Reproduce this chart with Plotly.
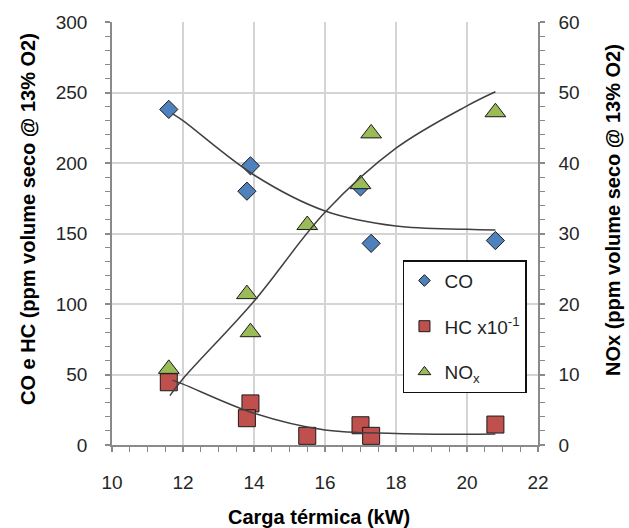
import plotly.graph_objects as go

# Measured points (x = carga térmica in kW)
co_x = [11.6, 13.9, 13.8, 17.0, 17.3, 20.8]
co_y = [238, 198, 180, 183, 143, 145]

hc_x = [11.6, 13.9, 13.8, 15.5, 17.0, 17.3, 20.8]
hc_y = [44.5, 29.5, 19, 6.5, 14, 6.5, 14.5]   # HC x10^-1

nox_x = [11.6, 13.8, 13.9, 15.5, 17.0, 17.3, 20.8]
nox_y = [10.8, 21.4, 16.0, 31.2, 37.0, 44.2, 47.2]

# Trend curves
co_trend_x = [11.7, 12.0, 14.0, 16.0, 18.0, 20.0, 20.8]
co_trend_y = [235, 230, 191.5, 166, 155.3, 153, 152.5]

hc_trend_x = [11.7, 12.0, 14.0, 16.0, 18.0, 20.0, 20.8]
hc_trend_y = [46.0, 43.2, 22.5, 10.6, 8.2, 7.6, 7.8]

nox_trend_x = [11.63, 12.0, 14.0, 16.0, 18.0, 20.0, 20.8]
nox_trend_y = [7.0, 9.4, 20.4, 33.0, 42.1, 48.1, 50.1]

x_ticks = [10, 12, 14, 16, 18, 20, 22]
y_ticks = [0, 50, 100, 150, 200, 250, 300]
y2_ticks = [0, 10, 20, 30, 40, 50, 60]

BLUE = "#4F81BD"
RED = "#C0504D"
GREEN = "#9BBB59"
EDGE = "#1a1a1a"
TREND = "#404040"
FONT = "Liberation Sans"

W, H = 629, 528
ML, MR, MT, MB = 112, 91, 22, 83
PW, PH = W - ML - MR, H - MT - MB

fig = go.Figure()

# markers
fig.add_trace(go.Scatter(x=co_x, y=co_y, mode="markers", showlegend=False,
                         marker=dict(symbol="diamond", size=14, color=BLUE,
                                     line=dict(color=EDGE, width=1))))
fig.add_trace(go.Scatter(x=nox_x, y=nox_y, mode="markers", yaxis="y2", showlegend=False,
                         marker=dict(symbol="triangle-up", size=18, color=GREEN,
                                     line=dict(color=EDGE, width=1))))
fig.add_trace(go.Scatter(x=hc_x, y=hc_y, mode="markers", showlegend=False,
                         marker=dict(symbol="square", size=17, color=RED,
                                     line=dict(color=EDGE, width=1))))

# trend curves
fig.add_trace(go.Scatter(x=co_trend_x, y=co_trend_y, mode="lines", showlegend=False,
                         line=dict(color=TREND, width=1.5, shape="spline", smoothing=1)))
fig.add_trace(go.Scatter(x=hc_trend_x, y=hc_trend_y, mode="lines", showlegend=False,
                         line=dict(color=TREND, width=1.5, shape="spline", smoothing=1)))
fig.add_trace(go.Scatter(x=nox_trend_x, y=nox_trend_y, mode="lines", yaxis="y2",
                         showlegend=False,
                         line=dict(color=TREND, width=1.5, shape="spline", smoothing=1)))

# legend entries with small symbols
fig.add_trace(go.Scatter(x=[None], y=[None], mode="markers", name="CO", legendgroup="a",
                         marker=dict(symbol="diamond", size=9, color=BLUE,
                                     line=dict(color=EDGE, width=1))))
fig.add_trace(go.Scatter(x=[None], y=[None], mode="markers", name="HC x10<sup>-1</sup>",
                         legendgroup="b",
                         marker=dict(symbol="square", size=11, color=RED,
                                     line=dict(color=EDGE, width=1))))
fig.add_trace(go.Scatter(x=[None], y=[None], mode="markers", name="NO<sub>x</sub>",
                         legendgroup="c",
                         marker=dict(symbol="triangle-up", size=11, color=GREEN,
                                     line=dict(color=EDGE, width=1))))

GRID = "#d4d4d4"
AXIS = "#8a8a8a"
TICKFONT = dict(family=FONT, size=19, color="#262626")
TITLEFONT = dict(family=FONT, size=20, color="#000000", weight="bold")


def px_x(px):
    return (px - ML) / PW


def px_y(py):
    return (H - MB - py) / PH


fig.update_layout(
    width=W, height=H,
    margin=dict(l=ML, r=MR, t=MT, b=MB),
    paper_bgcolor="white", plot_bgcolor="white",
    font=dict(family=FONT, size=19, color="#262626"),
    xaxis=dict(range=[10, 22], tickvals=x_ticks, showgrid=True, gridcolor=GRID, gridwidth=1.5,
               zeroline=False, showline=True, linecolor=AXIS, linewidth=1.5, mirror=False,
               ticks="outside", ticklen=5, tickcolor=AXIS, tickwidth=1.5,
               ticklabelstandoff=14, tickfont=TICKFONT,
               minor=dict(dtick=0.5, ticks="outside", ticklen=5, tickcolor=AXIS, tickwidth=1,
                          showgrid=False)),
    yaxis=dict(range=[0, 300], tickvals=y_ticks, showgrid=True, gridcolor=GRID, gridwidth=1.5,
               zeroline=False, showline=True, linecolor=AXIS, linewidth=1.5,
               ticks="outside", ticklen=5, tickcolor=AXIS, tickwidth=1.5,
               ticklabelstandoff=14, tickfont=TICKFONT,
               minor=dict(dtick=10, ticks="outside", ticklen=5, tickcolor=AXIS, tickwidth=1,
                          showgrid=False)),
    yaxis2=dict(range=[0, 60], tickvals=y2_ticks, overlaying="y", side="right",
                showgrid=False, zeroline=False, showline=True, linecolor=AXIS, linewidth=1.5,
                ticks="outside", ticklen=5, tickcolor=AXIS, tickwidth=1.5,
                ticklabelstandoff=10, tickfont=TICKFONT,
                minor=dict(dtick=2, ticks="outside", ticklen=5, tickcolor=AXIS, tickwidth=1,
                           showgrid=False)),
    legend=dict(x=0.683, y=0.437, xanchor="left", yanchor="top",
                bgcolor="white", bordercolor="#111111", borderwidth=1.5,
                font=dict(family=FONT, size=19, color="#1f1f1f"),
                tracegroupgap=18, itemwidth=30),
    annotations=[
        dict(text="Carga térmica (kW)", xref="paper", yref="paper",
             x=px_x(319), y=px_y(517), xanchor="center", yanchor="middle",
             showarrow=False, font=TITLEFONT),
        dict(text="CO e HC (ppm volume seco @ 13% O2)", xref="paper", yref="paper",
             x=px_x(28), y=px_y(219), xanchor="center", yanchor="middle",
             textangle=-90, showarrow=False, font=TITLEFONT),
        dict(text="NOx (ppm volume seco @ 13% O2)", xref="paper", yref="paper",
             x=px_x(613), y=px_y(210), xanchor="center", yanchor="middle",
             textangle=-90, showarrow=False, font=TITLEFONT),
    ],
)

fig.write_html("out.html")
